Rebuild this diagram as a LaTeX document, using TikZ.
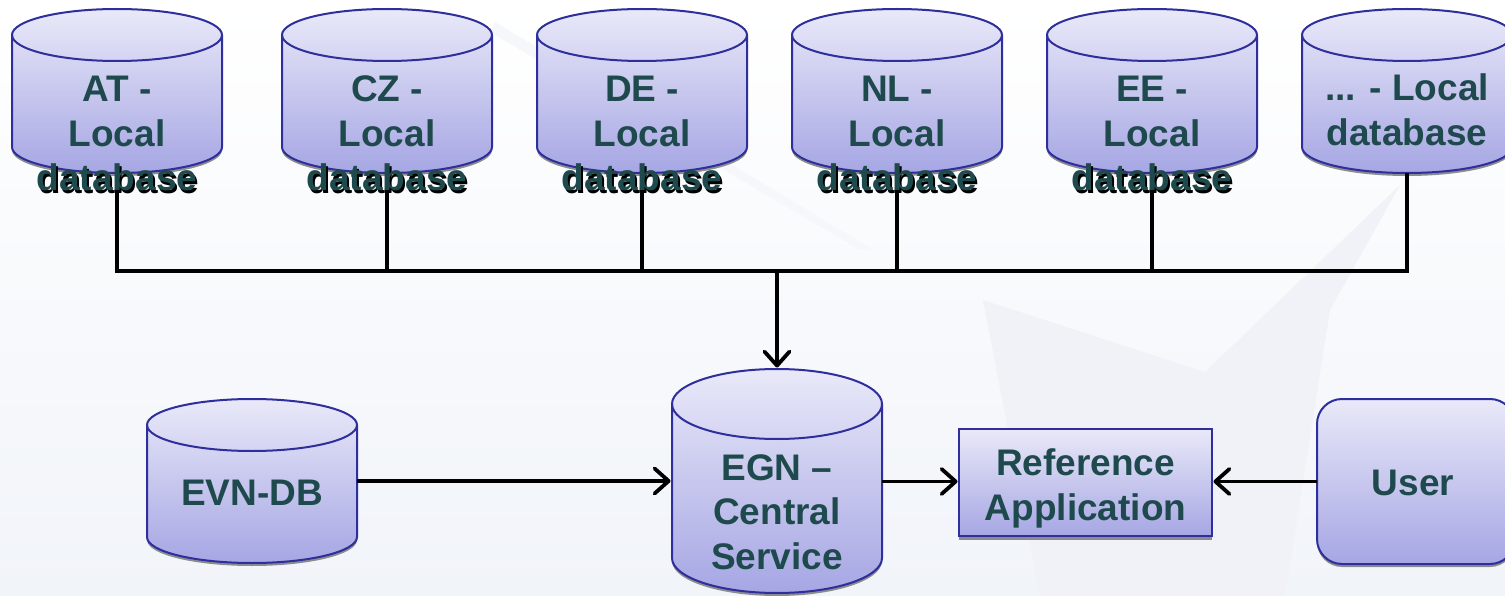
\documentclass[tikz,border=0pt]{standalone}
\usepackage{fontspec}
\setmainfont{Liberation Sans}
\usetikzlibrary{arrows.meta}
\definecolor{edge}{HTML}{2E2E9C}
\definecolor{fillTop}{HTML}{E9E9F9}
\definecolor{fillBot}{HTML}{A6A6E4}
\definecolor{inktext}{HTML}{1F4A4D}
\definecolor{bgTop}{HTML}{FFFFFF}
\definecolor{bgMid}{HTML}{FBFCFE}
\definecolor{bgBot}{HTML}{F1F4F9}
\definecolor{wedge}{HTML}{F0F2F7}
\definecolor{streak}{HTML}{F6F7FA}
\tikzset{
  body/.style={draw=edge,line width=2pt,top color=fillTop,bottom color=fillBot,line join=round},
  castshadow/.style={fill=black!45},
  lid/.style={draw=edge,line width=2pt},
  anchorbox/.style={inner sep=0pt,outer sep=0pt,rectangle},
  lbl/.style={font=\fontsize{37}{44.7}\selectfont\bfseries,text=inktext,align=center,inner sep=0pt},
  wire/.style={line width=4.3pt,draw=black},
  feed/.style={line width=3.8pt,draw=black,shorten >=1.5pt,-{Straight Barb[length=14pt,width=25pt,line width=3.8pt,round]}}
}
% name, cx, top, bottom, ry
\newcommand\dbcyl[5]{%
  \fill[castshadow] (#2-105,#3+#5+3) arc[start angle=180,end angle=360,x radius=105,y radius=#5]
     -- (#2+105,#4-#5+3) arc[start angle=0,end angle=180,x radius=105,y radius=#5] -- cycle;
  \path[body] (#2-105,#3+#5) arc[start angle=180,end angle=360,x radius=105,y radius=#5]
     -- (#2+105,#4-#5) arc[start angle=0,end angle=180,x radius=105,y radius=#5] -- cycle;
  \draw[lid] (#2-105,#3+#5) arc[start angle=180,end angle=0,x radius=105,y radius=#5];
  \node[anchorbox,minimum width=210pt,minimum height=#4pt-#3pt] (#1) at (#2,{(#3+#4)/2}) {};
}
\newcommand\shadowword[1]{\makebox[0pt][l]{\kern2pt\raisebox{-3pt}{\textcolor{black}{#1}}}#1}
\begin{document}
\begin{tikzpicture}[x=1pt,y=-1pt]
\useasboundingbox (0,0) rectangle (1505,596);
\clip (0,0) rectangle (1505,596);
% background
\fill[top color=bgTop,middle color=bgMid,bottom color=bgBot] (0,0) rectangle (1505,596);
\fill[wedge] (983,300) -- (1205,372) -- (1400,185) -- (1330,310) -- (1285,596) -- (1040,596) -- cycle;
\fill[streak] (495,22) -- (870,248) -- (860,250) -- (490,32) -- cycle;
% shapes
\dbcyl{at}{117}{9}{173}{26}
\dbcyl{cz}{387}{9}{173}{26}
\dbcyl{de}{642}{9}{173}{26}
\dbcyl{nl}{897}{9}{173}{26}
\dbcyl{ee}{1152}{9}{173}{26}
\dbcyl{more}{1407}{9}{173}{26}
\dbcyl{evn}{252}{399}{563}{26}
\dbcyl{egn}{777}{369}{593}{35}
% reference application
\fill[castshadow] (959,432) rectangle (1212,540);
\node[anchorbox,draw=edge,line width=2pt,top color=fillTop,bottom color=fillBot,minimum width=253pt,minimum height=107pt] (ref) at (1085.5,482.5) {};
% user
\fill[castshadow,rounded corners=25pt] (1317,402) rectangle (1515,567);
\node[anchorbox,draw=edge,line width=2pt,top color=fillTop,bottom color=fillBot,rounded corners=25pt,minimum width=198pt,minimum height=165pt] (user) at (1416,481.5) {};
% connectors
\coordinate (busL) at (at.south |- 0,271);
\coordinate (busR) at (more.south |- 0,271);
\draw[wire] (at.south) -- (busL);
\draw[wire] (cz.south) -- (cz.south |- busL);
\draw[wire] (de.south) -- (de.south |- busL);
\draw[wire] (nl.south) -- (nl.south |- busL);
\draw[wire] (ee.south) -- (ee.south |- busL);
\draw[wire] (more.south) -- (busR);
\draw[wire,line cap=rect] (busL) -- (busR);
\draw[feed] (egn.north |- busL) -- (egn.north);
\draw[feed] (evn.east |- 0,481) -- (egn.west |- 0,481);
\draw[feed] (egn.east |- 0,481.5) -- (ref.west |- 0,481.5);
\draw[feed] (user.west |- 0,481.5) -- (ref.east |- 0,481.5);
% labels
\node[lbl] (atL) at (117,135) {AT -\\Local\\\shadowword{database}};
\node[lbl] (czL) at (387,135) {CZ -\\Local\\\shadowword{database}};
\node[lbl] (deL) at (642,135) {DE -\\Local\\\shadowword{database}};
\node[lbl] (nlL) at (897,135) {NL -\\Local\\\shadowword{database}};
\node[lbl] (eeL) at (1152,135) {EE -\\Local\\\shadowword{database}};
\node[lbl] (moreL) at (1407,110) {... - Local\\database};
\node[lbl] (evnL) at (252,492.5) {EVN-DB};
\node[lbl] (egnL) at (777,512) {EGN –\\Central\\Service};
\node[lbl] (refL) at (1085.5,488.5) {Reference\\Application};
\node[lbl] (userL) at (1413,482.5) {User};
\end{tikzpicture}
\end{document}
